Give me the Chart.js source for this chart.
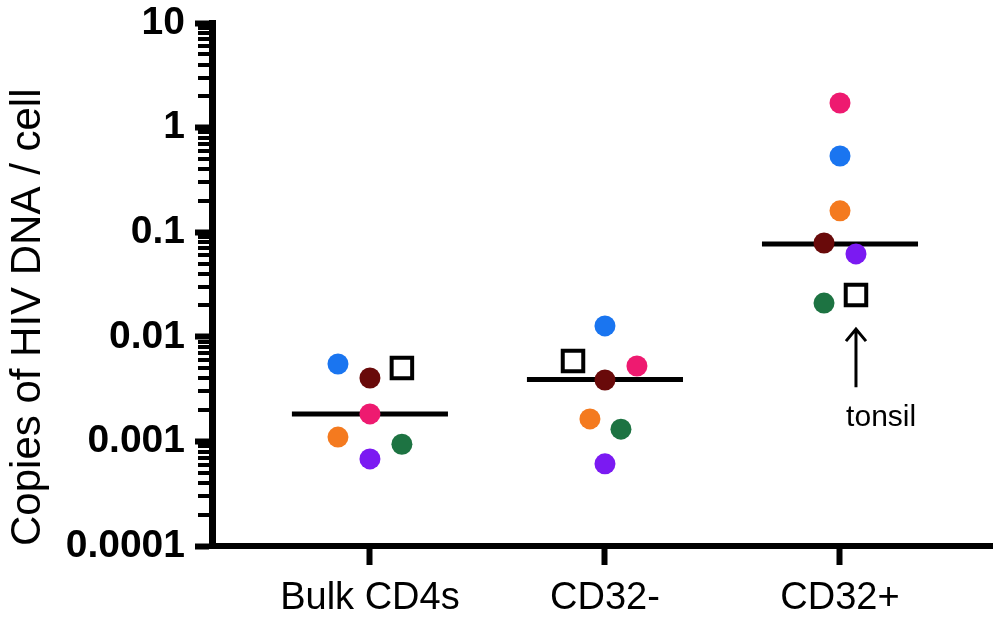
<!DOCTYPE html>
<html lang="en">
<head>
  <meta charset="UTF-8" />
  <title>HIV DNA per cell</title>
  <script src="https://cdn.jsdelivr.net/npm/chart.js"></script>
  <style>
    body { margin: 0; background: #fff; }
    #wrap { width: 993px; height: 619px; }
  </style>
</head>
<body>
  <div id="wrap"><canvas id="dnaChart" width="993" height="619"></canvas></div>

  <script>
    // categories and axis ticks
    const categories = ['Bulk CD4s', 'CD32-', 'CD32+'];
    const yTickValues = [0.0001, 0.001, 0.01, 0.1, 1, 10];
    const yTickLabels = ['0.0001', '0.001', '0.01', '0.1', '1', '10'];
    const minorMultipliers = [2, 3, 4, 5, 6, 7, 8, 9];

    // one value per category for each donor (copies / cell)
    const blueValues   = [0.0055, 0.0127, 0.535];
    const maroonValues = [0.00404, 0.00386, 0.0788];
    const pinkValues   = [0.00183, 0.00526, 1.72];
    const orangeValues = [0.0011, 0.00164, 0.16];
    const greenValues  = [0.00094, 0.00131, 0.021];
    const purpleValues = [0.00068, 0.00061, 0.062];
    const tonsilValues = [0.00503, 0.00587, 0.0251];

    // horizontal jitter of each point inside its category
    const blueOffsets   = [-0.136, 0, 0];
    const maroonOffsets = [0, 0, -0.068];
    const pinkOffsets   = [0, 0.136, 0];
    const orangeOffsets = [-0.136, -0.064, 0];
    const greenOffsets  = [0.136, 0.068, -0.068];
    const purpleOffsets = [0, 0, 0.068];
    const tonsilOffsets = [0.136, -0.136, 0.068];

    const medians = [0.00183, 0.0039, 0.077];

    // arrow pointing at the tonsil sample in CD32+
    const arrowX = 3.068;
    const arrowFrom = 0.0033;
    const arrowTo = 0.0121;
    const noteX = 3.175;
    const noteY = 0.0017;
    const noteText = 'tonsil';

    const FONT = '"Liberation Sans", Arial, Helvetica, sans-serif';
    const MEDIAN_HALF = 0.332;

    const toPoints = (values, offsets) =>
      values.map((v, i) => ({ x: i + 1 + offsets[i], y: v }));

    const dot = (values, offsets, color) => ({
      data: toPoints(values, offsets),
      backgroundColor: color,
      borderColor: color,
      borderWidth: 0,
      pointRadius: 10.5,
      pointHoverRadius: 10.5,
      showLine: false,
      order: 0
    });

    const medianSets = medians.map((m, i) => ({
      type: 'line',
      data: [{ x: i + 1 - MEDIAN_HALF, y: m }, { x: i + 1 + MEDIAN_HALF, y: m }],
      borderColor: '#000',
      borderWidth: 5,
      pointRadius: 0,
      order: 1
    }));

    const datasets = [
      dot(blueValues, blueOffsets, '#1a75f0'),
      dot(maroonValues, maroonOffsets, '#690a0a'),
      dot(pinkValues, pinkOffsets, '#ee1a70'),
      dot(orangeValues, orangeOffsets, '#f47a1f'),
      dot(greenValues, greenOffsets, '#1d7342'),
      dot(purpleValues, purpleOffsets, '#7b1af2'),
      {
        data: toPoints(tonsilValues, tonsilOffsets),
        pointStyle: 'rect',
        backgroundColor: '#fff',
        borderColor: '#000',
        borderWidth: 4,
        pointRadius: 14.5,
        pointHoverRadius: 14.5,
        showLine: false,
        order: 0
      },
      ...medianSets
    ];

    const minorTicks = {
      id: 'minorTicks',
      afterDraw(chart) {
        const ctx = chart.ctx;
        const y = chart.scales.y;
        const left = chart.chartArea.left;
        ctx.save();
        ctx.strokeStyle = '#000';
        ctx.lineWidth = 4;
        yTickValues.slice(0, -1).forEach(base => {
          minorMultipliers.forEach(m => {
            const py = Math.round(y.getPixelForValue(base * m));
            ctx.beginPath();
            ctx.moveTo(left - 14, py);
            ctx.lineTo(left, py);
            ctx.stroke();
          });
        });
        ctx.restore();
      }
    };

    const tonsilNote = {
      id: 'tonsilNote',
      afterDraw(chart) {
        const ctx = chart.ctx;
        const xs = chart.scales.x, ys = chart.scales.y;
        const ax = xs.getPixelForValue(arrowX);
        const y1 = ys.getPixelForValue(arrowFrom);
        const y2 = ys.getPixelForValue(arrowTo);
        ctx.save();
        ctx.strokeStyle = '#000';
        ctx.lineWidth = 3;
        ctx.beginPath();
        ctx.moveTo(ax, y1);
        ctx.lineTo(ax, y2 + 1);
        ctx.moveTo(ax - 10, y2 + 13);
        ctx.lineTo(ax, y2 + 1);
        ctx.lineTo(ax + 10, y2 + 13);
        ctx.stroke();
        ctx.fillStyle = '#000';
        ctx.font = '30px ' + FONT;
        ctx.textAlign = 'center';
        ctx.textBaseline = 'middle';
        ctx.fillText(noteText, xs.getPixelForValue(noteX), ys.getPixelForValue(noteY));
        ctx.restore();
      }
    };

    new Chart(document.getElementById('dnaChart'), {
      type: 'scatter',
      data: { datasets },
      plugins: [minorTicks, tonsilNote],
      options: {
        responsive: false,
        animation: false,
        devicePixelRatio: 1,
        layout: { autoPadding: false, padding: { left: 0, right: 0, top: 23, bottom: 0 } },
        plugins: { legend: { display: false }, tooltip: { enabled: false } },
        scales: {
          x: {
            type: 'linear',
            min: 0.328,
            max: 3.651,
            afterBuildTicks: s => { s.ticks = categories.map((c, i) => ({ value: i + 1 })); },
            afterFit: s => { s.height = 73; s.paddingLeft = 0; s.paddingRight = 0; },
            ticks: {
              autoSkip: false,
              maxRotation: 0,
              padding: 11,
              color: '#000',
              font: { family: FONT, size: 38 },
              callback: (v, i) => categories[i]
            },
            grid: { drawOnChartArea: false, tickLength: 19, tickWidth: 6, tickColor: '#000' },
            border: { width: 6, color: '#000' }
          },
          y: {
            type: 'logarithmic',
            min: 0.0001,
            max: 10,
            afterBuildTicks: s => { s.ticks = yTickValues.map(v => ({ value: v, major: true })); },
            afterFit: s => { s.width = 212; s.paddingTop = 0; s.paddingBottom = 0; },
            ticks: {
              autoSkip: false,
              padding: 10,
              color: '#000',
              font: { family: FONT, size: 39, weight: 'bold' },
              callback: (v, i) => yTickLabels[i]
            },
            grid: { drawOnChartArea: false, tickLength: 17, tickWidth: 6, tickColor: '#000' },
            border: { width: 7, color: '#000' },
            title: {
              display: true,
              text: 'Copies of HIV DNA / cell',
              align: 'start',
              color: '#000',
              font: { family: FONT, size: 42 },
              padding: { top: 3, bottom: 0 }
            }
          }
        }
      }
    });
  </script>
</body>
</html>
